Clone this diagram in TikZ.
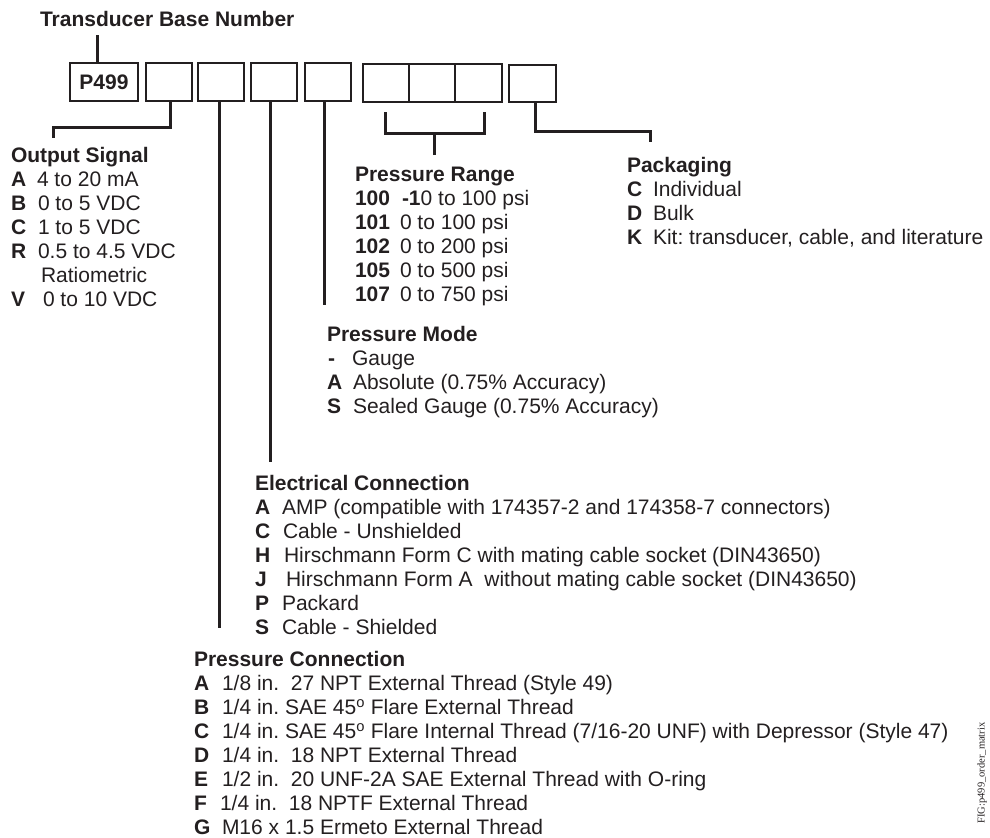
\documentclass[tikz,border=0pt]{standalone}
\usepackage{fontspec}
\setmainfont{Liberation Sans}
\newfontfamily\serifsmall{Liberation Serif}
\definecolor{ink}{HTML}{231F20}
\tikzset{
  lbl/.style={anchor=base west, inner sep=0pt, outer sep=0pt, text=ink, font=\fontsize{21bp}{24bp}\selectfont},
  hdr/.style={lbl, font=\fontsize{21bp}{24bp}\selectfont\bfseries},
  cell/.style={draw=ink, line width=2.6bp, inner sep=0pt, minimum width=46bp, minimum height=38bp, text=ink, font=\fontsize{21bp}{24bp}\selectfont\bfseries},
  wire/.style={draw=ink, line width=3bp},
}
\frenchspacing
\begin{document}
\begin{tikzpicture}[x=1bp, y=-1bp]
\useasboundingbox (0,0) rectangle (990,838);

% title and boxes
\node[hdr] (title) at (40,26.5) {Transducer Base Number};
\node[cell, minimum width=68bp] (b0) at (104,82) {P499};
\node[cell] (b1) at (169,82) {};
\node[cell] (b2) at (221,82) {};
\node[cell] (b3) at (274,82) {};
\node[cell] (b4) at (328,82) {};
\node[cell] (b6) at (386,83) {};
\node[cell] (b7) at (432,83) {};
\node[cell, minimum width=47bp] (b8) at (478.5,83) {};
\node[cell, minimum width=47bp, minimum height=37bp] (b9) at (532.5,83.5) {};

% connectors
\coordinate (t0) at (97,35);
\draw[wire] (t0) -- (t0 |- b0.north);

\coordinate (o1) at (170,127);
\coordinate (o2) at (53,138);
\draw[wire] (o1 |- b1.south) -- (o1) -| (o2);

\coordinate (p1) at (219,628);
\draw[wire] (p1 |- b2.south) -- (p1);

\coordinate (e1) at (270,462);
\draw[wire] (e1 |- b3.south) -- (e1);

\coordinate (m1) at (324,305);
\draw[wire] (m1 |- b4.south) -- (m1);

\coordinate (r1) at (385,112);
\coordinate (r2) at (484,112);
\coordinate (rb) at (434,133);
\coordinate (r3) at (434,155);
\draw[wire] (r1) -- (r1 |- rb) -- (r2 |- rb) -- (r2);
\draw[wire] (r3) -- (rb);

\coordinate (k1) at (535,131);
\coordinate (k2) at (650,142);
\draw[wire] (k1 |- b9.south) -- (k1) -| (k2);

% Output Signal
\node[hdr] (osT) at (11,162.5) {Output Signal};
\node[hdr] (osA) at (11,186.5) {A};  \node[lbl] (osAt) at (37,186.5) {4 to 20 mA};
\node[hdr] (osB) at (11,210.5) {B};  \node[lbl] (osBt) at (38,210.5) {0 to 5 VDC};
\node[hdr] (osC) at (11,234.5) {C};  \node[lbl] (osCt) at (38,234.5) {1 to 5 VDC};
\node[hdr] (osR) at (11,258.5) {R};  \node[lbl] (osRt) at (38,258.5) {0.5 to 4.5 VDC};
\node[lbl] (osR2) at (41,282.5) {Ratiometric};
\node[hdr] (osV) at (11,306.5) {V};  \node[lbl] (osVt) at (43,306.5) {0 to 10 VDC};

% Pressure Range
\node[hdr] (prT) at (355,181.5) {Pressure Range};
\node[hdr] (pr1) at (355,205.5) {100}; \node[lbl] (pr1t) at (402,205.5) {\textbf{-1}0 to 100 psi};
\node[hdr] (pr2) at (355,229.5) {101}; \node[lbl] (pr2t) at (400,229.5) {0 to 100 psi};
\node[hdr] (pr3) at (355,253.5) {102}; \node[lbl] (pr3t) at (400,253.5) {0 to 200 psi};
\node[hdr] (pr4) at (355,277.5) {105}; \node[lbl] (pr4t) at (400,277.5) {0 to 500 psi};
\node[hdr] (pr5) at (355,301.5) {107}; \node[lbl] (pr5t) at (400,301.5) {0 to 750 psi};

% Packaging
\node[hdr] (pkT) at (627,172.5) {Packaging};
\node[hdr] (pkC) at (627,196.5) {C}; \node[lbl] (pkCt) at (653,196.5) {Individual};
\node[hdr] (pkD) at (627,220.5) {D}; \node[lbl] (pkDt) at (653,220.5) {Bulk};
\node[hdr] (pkK) at (627,244.5) {K}; \node[lbl] (pkKt) at (653,244.5) {Kit: transducer, cable, and literature};

% Pressure Mode
\node[hdr] (pmT) at (327,341.5) {Pressure Mode};
\node[hdr] (pm1) at (328,365.5) {-}; \node[lbl] (pm1t) at (352,365.5) {Gauge};
\node[hdr] (pm2) at (327,389.5) {A}; \node[lbl] (pm2t) at (353,389.5) {Absolute (0.75\% Accuracy)};
\node[hdr] (pm3) at (327,413.5) {S}; \node[lbl] (pm3t) at (353,413.5) {Sealed Gauge (0.75\% Accuracy)};

% Electrical Connection
\node[hdr] (ecT) at (255,490.5) {Electrical Connection};
\node[hdr] (ecA) at (255,514.5) {A}; \node[lbl] (ecAt) at (282,514.5) {AMP (compatible with 174357-2 and 174358-7 connectors)};
\node[hdr] (ecC) at (255,538.5) {C}; \node[lbl] (ecCt) at (283,538.5) {Cable - Unshielded};
\node[hdr] (ecH) at (255,562.5) {H}; \node[lbl] (ecHt) at (284,562.5) {Hirschmann Form C with mating cable socket (DIN43650)};
\node[hdr] (ecJ) at (255,586.5) {J}; \node[lbl] (ecJt) at (286,586.5) {Hirschmann Form A\ \ without mating cable socket (DIN43650)};
\node[hdr] (ecP) at (255,610.5) {P}; \node[lbl] (ecPt) at (282,610.5) {Packard};
\node[hdr] (ecS) at (255,634.5) {S}; \node[lbl] (ecSt) at (282,634.5) {Cable - Shielded};

% Pressure Connection
\node[hdr] (pcT) at (194,666.5) {Pressure Connection};
\node[hdr] (pcA) at (194,690.5) {A}; \node[lbl] (pcAt) at (222,690.5) {1/8 in.\ \ 27 NPT External Thread (Style 49)};
\node[hdr] (pcB) at (194,714.5) {B}; \node[lbl] (pcBt) at (222,714.5) {1/4 in. SAE 45\textsuperscript{o} Flare External Thread};
\node[hdr] (pcC) at (194,738.5) {C}; \node[lbl] (pcCt) at (222,738.5) {1/4 in. SAE 45\textsuperscript{o} Flare Internal Thread (7/16-20 UNF) with Depressor (Style 47)};
\node[hdr] (pcD) at (194,762.5) {D}; \node[lbl] (pcDt) at (222,762.5) {1/4 in.\ \ 18 NPT External Thread};
\node[hdr] (pcE) at (194,786.5) {E}; \node[lbl] (pcEt) at (222,786.5) {1/2 in.\ \ 20 UNF-2A SAE External Thread with O-ring};
\node[hdr] (pcF) at (194,810.5) {F}; \node[lbl] (pcFt) at (220,810.5) {1/4 in.\ \ 18 NPTF External Thread};
\node[hdr] (pcG) at (194,834.5) {G}; \node[lbl] (pcGt) at (222,834.5) {M16 x 1.5 Ermeto External Thread};

% figure id
\node[rotate=90, inner sep=0pt, text=ink, font=\serifsmall\fontsize{10.5bp}{12bp}\selectfont] (fig) at (982,773) {FIG:p499\_order\_matrix};
\end{tikzpicture}
\end{document}
